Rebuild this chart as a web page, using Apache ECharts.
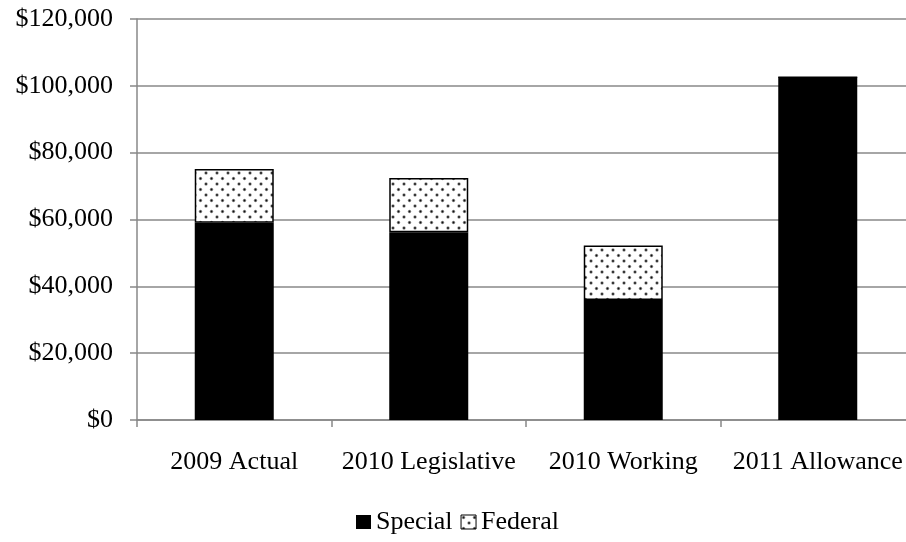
<!DOCTYPE html>
<html>
<head>
<meta charset="utf-8">
<script src="https://cdn.jsdelivr.net/npm/echarts@6/dist/echarts.min.js"></script>
<style>
  html, body { margin: 0; padding: 0; background: #fff; overflow: hidden; }
  #main { width: 915px; height: 542px; }
</style>
</head>
<body>
<div id="main"></div>
<script>
var categories = ['2009 Actual', '2010 Legislative', '2010 Working', '2011 Allowance'];
var specialVals = [59000, 56200, 35900, 102600];
var federalVals = [16100, 16200, 16300, 0];
var yTicks = [0, 20000, 40000, 60000, 80000, 100000, 120000];

//斑点填充图案
function dotPattern() {
    var c = document.createElement('canvas');
    c.width = 11;
    c.height = 11;
    var ctx = c.getContext('2d');
    ctx.fillStyle = '#fff';
    ctx.fillRect(0, 0, 11, 11);
    var pts = [[2.5, 2.5], [8, 8]];
    for (var i = 0; i < pts.length; i++) {
        ctx.fillStyle = 'rgba(0,0,0,0.45)';
        ctx.beginPath();
        ctx.arc(pts[i][0], pts[i][1], 1.7, 0, Math.PI * 2);
        ctx.fill();
        ctx.fillStyle = '#111';
        ctx.beginPath();
        ctx.arc(pts[i][0], pts[i][1], 0.9, 0, Math.PI * 2);
        ctx.fill();
    }
    return c;
}

// 图表画布比窗口略宽, 右侧被裁掉
var myChart = echarts.init(document.getElementById('main'), null, { renderer: 'canvas' });
var fontFam = '"Liberation Serif", "Times New Roman", serif';

var option = {
    animation: false,
    textStyle: { fontFamily: fontFam },
    grid: { left: 137, right: 0, top: 19, bottom: 122 },
    legend: {
        bottom: 2,
        left: 'center',
        itemWidth: 15,
        itemHeight: 14,
        itemGap: 8,
        textStyle: { fontFamily: fontFam, fontSize: 26, color: '#000' },
        data: [
            { name: 'Special', icon: 'rect' },
            { name: 'Federal', icon: 'rect', itemStyle: { borderColor: '#000', borderWidth: 1 } }
        ]
    },
    xAxis: {
        type: 'category',
        data: categories,
        axisLine: { lineStyle: { color: '#888', width: 1.5 } },
        axisTick: { show: true, interval: 0, length: 7, lineStyle: { color: '#888', width: 1.5 } },
        axisLabel: { interval: 0, color: '#000', fontSize: 26, fontFamily: fontFam, margin: 29 }
    },
    yAxis: {
        type: 'value',
        min: 0,
        max: 120000,
        interval: 20000,
        axisLine: { show: true, lineStyle: { color: '#888', width: 1.5 } },
        axisTick: { show: true, length: 7, lineStyle: { color: '#888', width: 1.5 } },
        splitLine: { lineStyle: { color: '#888', width: 1.5 } },
        axisLabel: {
            color: '#000',
            fontSize: 26,
            fontFamily: fontFam,
            margin: 24,
            formatter: function (v) {
                if (yTicks.indexOf(v) < 0) return '';
                return '$' + v.toLocaleString('en-US');
            }
        }
    },
    series: [
        {
            name: 'Special',
            type: 'bar',
            stack: 'total',
            barWidth: 79,
            itemStyle: { color: '#000' },
            data: specialVals
        },
        {
            name: 'Federal',
            type: 'bar',
            stack: 'total',
            barWidth: 79,
            itemStyle: {
                color: { image: dotPattern(), repeat: 'repeat' },
                borderColor: '#000',
                borderWidth: 1.5
            },
            data: federalVals
        }
    ]
};
myChart.setOption(option);
</script>
</body>
</html>
